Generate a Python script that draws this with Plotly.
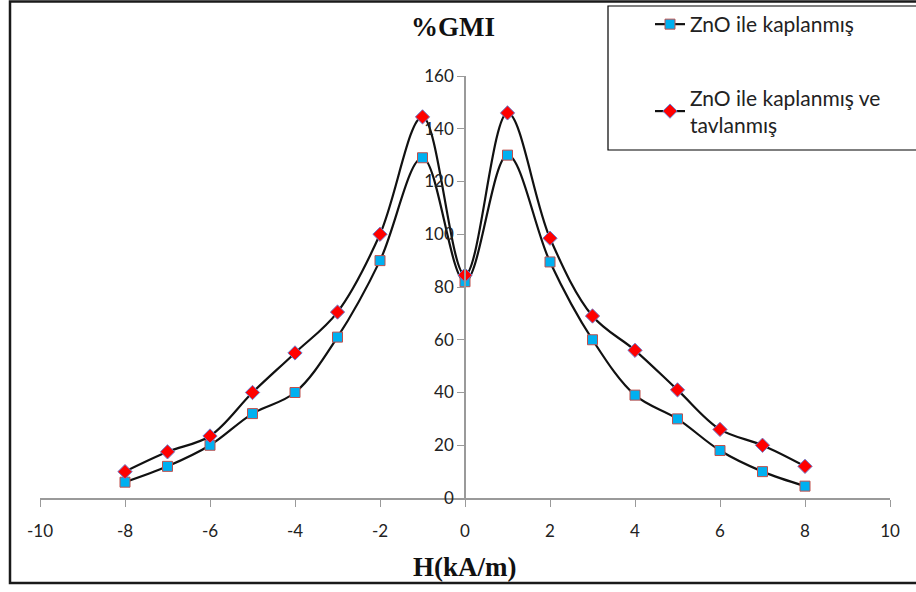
import plotly.graph_objects as go

# Magnetic field values (kA/m)
H = [-8, -7, -6, -5, -4, -3, -2, -1, 0, 1, 2, 3, 4, 5, 6, 7, 8]

# %GMI for the ZnO coated wire
gmi_coated = [6, 12, 20, 32, 40, 61, 90, 129, 82, 130, 89.5, 60, 39, 30, 18, 10, 4.5]

# %GMI for the ZnO coated and annealed wire
gmi_annealed = [10, 17.5, 23.5, 40, 55, 70.5, 100, 144.5, 84.5, 146, 98.5, 69, 56, 41, 26, 20, 12]

name_coated = "ZnO ile kaplanmış"
name_annealed = "ZnO ile kaplanmış ve<br>tavlanmış"

x_ticks = list(range(-10, 11, 2))
y_ticks = list(range(0, 161, 20))

W, H_PX = 916, 592
ML, MR, MT, MB = 40, 26, 76, 94
PW = W - ML - MR
PH = H_PX - MT - MB


def px_x(p):
    return (p - ML) / PW


def px_y(p):
    return (H_PX - MB - p) / PH


tick_font = dict(family="Lato, Liberation Sans, sans-serif", size=17, color="#222222")

fig = go.Figure()
fig.add_trace(go.Scatter(
    x=H, y=gmi_coated, name=name_coated, mode="lines+markers", legendgroup="a",
    line=dict(color="#111111", width=2.2, shape="spline", smoothing=1.0),
    marker=dict(symbol="square", size=10, color="#00B0F0",
                line=dict(color="#C0504D", width=1)),
    cliponaxis=False,
))
fig.add_trace(go.Scatter(
    x=H, y=gmi_annealed, name=name_annealed, mode="lines+markers", legendgroup="b",
    line=dict(color="#111111", width=2.2, shape="spline", smoothing=1.0),
    marker=dict(symbol="diamond", size=11, color="#FF0000",
                line=dict(color="#6A7FD0", width=1)),
    cliponaxis=False,
))

fig.update_layout(
    width=W, height=H_PX,
    margin=dict(l=ML, r=MR, t=MT, b=MB, autoexpand=False),
    paper_bgcolor="white", plot_bgcolor="white",
    showlegend=True,
    legend=dict(
        x=px_x(650), y=px_y(4), xanchor="left", yanchor="top",
        bgcolor="rgba(0,0,0,0)", borderwidth=0,
        font=dict(family="Lato, Liberation Sans, sans-serif", size=21, color="#222222"),
        tracegroupgap=43, traceorder="grouped",
        itemwidth=30,
    ),
    xaxis=dict(
        range=[-10, 10], tickvals=x_ticks, ticktext=[str(v) for v in x_ticks],
        showgrid=False, zeroline=False, showline=True, linecolor="#9a9a9a", linewidth=1.5,
        ticks="outside", ticklen=7, tickcolor="#9a9a9a", tickfont=tick_font,
        ticklabelstandoff=10,
    ),
    yaxis=dict(
        range=[0, 160], tickvals=y_ticks, ticktext=[str(v) for v in y_ticks],
        showgrid=False, zeroline=False, showline=True, linecolor="#9a9a9a", linewidth=1.5,
        ticks="outside", ticklen=7, tickcolor="#9a9a9a", tickfont=tick_font,
        anchor="free", position=0.5,
    ),
    shapes=[
        # legend frame
        dict(type="rect", xref="paper", yref="paper",
             x0=px_x(608), x1=px_x(930), y0=px_y(150), y1=px_y(6),
             line=dict(color="black", width=1.2), fillcolor="rgba(0,0,0,0)", layer="below"),
        # outer chart frame
        dict(type="rect", xref="paper", yref="paper",
             x0=px_x(10), x1=px_x(930), y0=px_y(583), y1=px_y(1.5),
             line=dict(color="#1a1a1a", width=2.5), fillcolor="rgba(0,0,0,0)"),
    ],
    annotations=[
        dict(text="<b>%GMI</b>", xref="paper", yref="paper",
             x=px_x(453), y=px_y(27), xanchor="center", yanchor="middle", showarrow=False,
             font=dict(family="Liberation Serif, Times New Roman, serif", size=27, color="#111111")),
        dict(text="<b>H(kA/m)</b>", xref="paper", yref="paper",
             x=px_x(465), y=px_y(567), xanchor="center", yanchor="middle", showarrow=False,
             font=dict(family="Liberation Serif, Times New Roman, serif", size=27, color="#111111")),
    ],
)

fig.write_html("out.html")
